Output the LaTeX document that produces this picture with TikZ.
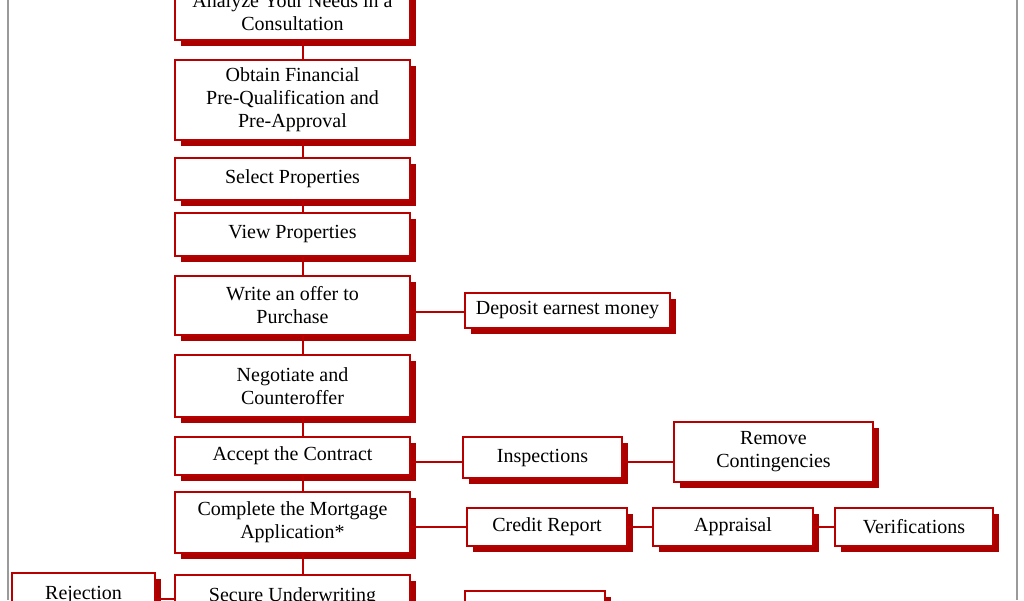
\documentclass[tikz,border=0pt]{standalone}
\usepackage{fontspec}
\setmainfont{Liberation Serif}
\usetikzlibrary{shadows,calc}
\definecolor{boxred}{HTML}{B80000}
\definecolor{shadowred}{HTML}{AA0000}
\definecolor{framegray}{HTML}{9A9A9A}
\tikzset{
  box/.style={draw=boxred, line width=1.3pt, fill=white, align=center, inner sep=0pt,
    font=\fontsize{20}{23}\selectfont,
    drop shadow={shadow xshift=6pt, shadow yshift=-6pt, fill=shadowred, opacity=1}},
  mainbox/.style={box, minimum width=235pt},
  link/.style={draw=boxred, line width=1.3pt},
  frameline/.style={draw=framegray, line width=1.6pt},
}
\begin{document}
\begin{tikzpicture}[x=1pt, y=-1pt]
\useasboundingbox (0,0) rectangle (1024,600);
\fill[white] (0,0) rectangle (1024,600);
\clip (0,0) rectangle (1024,600);
\draw[frameline] (8,0) -- (8,600);
\draw[frameline] (1017,0) -- (1017,600);

% main column
\node[mainbox, minimum height=56pt] (n1) at (292.5,12) {Analyze Your Needs in a\\Consultation};
\node[mainbox, minimum height=80pt] (n2) at (292.5,100) {Obtain Financial\\Pre-Qualification and\\Pre-Approval};
\node[mainbox, minimum height=42pt] (n3) at (292.5,179) {Select Properties};
\node[mainbox, minimum height=43pt] (n4) at (292.5,234.5) {View Properties};
\node[mainbox, minimum height=59pt] (n5) at (292.5,305.5) {Write an offer to\\Purchase};
\node[mainbox, minimum height=62pt] (n6) at (292.5,386) {Negotiate and\\Counteroffer};
\node[mainbox, minimum height=38pt] (n7) at (292.5,456) {Accept the Contract};
\node[mainbox, minimum height=61pt] (n8) at (292.5,522.5) {Complete the Mortgage\\Application*};
\node[mainbox, minimum height=62pt] (n9) at (292.5,606) {Secure Underwriting\\ \mbox{}};

% side boxes
\node[box, minimum width=205pt, minimum height=35pt] (dep) at (567.5,310.5) {Deposit earnest money};
\node[box, minimum width=159pt, minimum height=41pt] (insp) at (542.5,457.5) {Inspections};
\node[box, minimum width=199pt, minimum height=60pt] (rem) at (773.5,452) {Remove\\Contingencies};
\node[box, minimum width=160pt, minimum height=38pt] (cred) at (547,527) {Credit Report};
\node[box, minimum width=160pt, minimum height=38pt] (appr) at (733,527) {Appraisal};
\node[box, minimum width=158pt, minimum height=38pt] (veri) at (914,527) {Verifications};
\node[box, minimum width=143pt, minimum height=62pt] (rej) at (83.5,604) {Rejection\\ \mbox{}};
\node[box, minimum width=140pt, minimum height=40pt] (low) at (535,611) {};

% vertical connectors
\foreach \a/\b in {n1/n2,n2/n3,n3/n4,n4/n5,n5/n6,n6/n7,n7/n8,n8/n9}{
  \draw[link] ([xshift=10.5pt]\a.south) -- ([xshift=10.5pt]\b.north);
}
% horizontal connectors
\draw[link] ([yshift=-1.5pt]dep.west) -- ([yshift=-1.5pt]dep.west -| n5.east);
\draw[link] ([yshift=-4.5pt]insp.west) -- ([yshift=-4.5pt]insp.west -| n7.east);
\draw[link] ([yshift=-4.5pt]insp.east) -- ([yshift=-4.5pt]insp.east -| rem.west);
\draw[link] (cred.west) -- (cred.west -| n8.east);
\draw[link] (cred.east) -- (appr.west);
\draw[link] (appr.east) -- (veri.west);
\draw[link] ([yshift=5pt]rej.east) -- ([yshift=5pt]rej.east -| n9.west);
\end{tikzpicture}
\end{document}
